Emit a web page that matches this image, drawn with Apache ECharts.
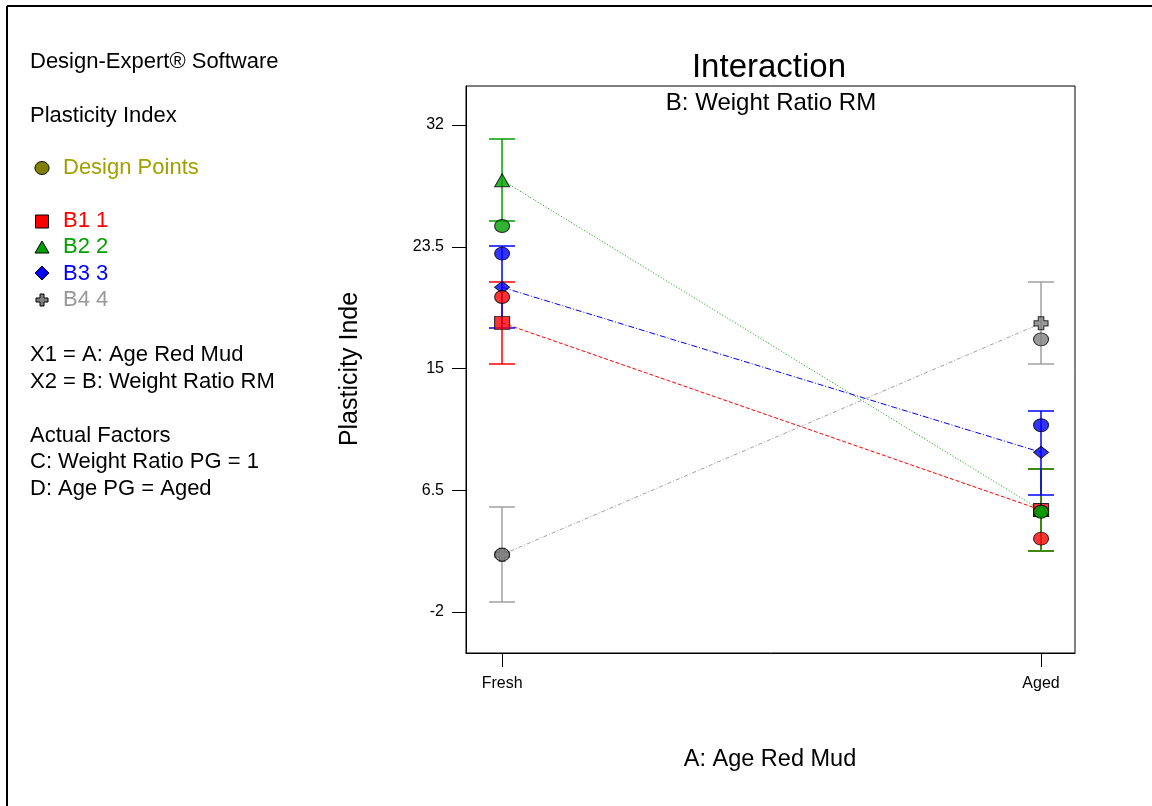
<!DOCTYPE html>
<html>
<head>
<meta charset="utf-8">
<script src="https://cdn.jsdelivr.net/npm/echarts@6/dist/echarts.min.js"></script>
<style>
html,body{margin:0;padding:0;background:#fff;}
#main{width:1152px;height:806px;}
</style>
</head>
<body>
<div id="main"></div>
<script>
// ---- data ----
const categories = ['Fresh', 'Aged'];
const yTicks = [-2, 6.5, 15, 23.5, 32];
const seriesNames = ['B1 1', 'B2 2', 'B3 3', 'B4 4'];

const meanB1 = [18.18, 5.11];
const lowB1  = [15.28, 2.22];
const highB1 = [21.07, 7.98];

const meanB2 = [28.15, 5.10];
const lowB2  = [25.28, 2.22];
const highB2 = [31.02, 7.98];

const meanB3 = [20.67, 9.14];
const lowB3  = [17.80, 6.19];
const highB3 = [23.56, 12.01];

const meanB4 = [1.99, 18.15];
const lowB4  = [-1.32, 15.28];
const highB4 = [5.30, 21.04];

const designB1 = [19.99, 3.11];
const designB2 = [24.95, 4.99];
const designB3 = [23.02, 11.03];
const designB4 = [1.99, 17.03];

// ---- styles ----
const FONT = 'Liberation Sans, Arial, sans-serif';
const colRed = '#ff0000', colGreen = '#00a000', colBlue = '#0000ff', colGray = '#808080', colGrayLine = '#a0a0a0';
const plusPath = 'path://M3,0 H7 V3 H10 V7 H7 V10 H3 V7 H0 V3 H3 Z';

const groups = [
  {name: seriesNames[0], mean: meanB1, low: lowB1, high: highB1, design: designB1, color: colRed, bar: colRed, dash: [4, 2], symbol: 'rect', size: [15, 13]},
  {name: seriesNames[1], mean: meanB2, low: lowB2, high: highB2, design: designB2, color: colGreen, bar: colGreen, dash: [1, 2], symbol: 'triangle', size: [15, 13]},
  {name: seriesNames[2], mean: meanB3, low: lowB3, high: highB3, design: designB3, color: colBlue, bar: colBlue, dash: [6, 2, 1, 2], symbol: 'diamond', size: [15, 12]},
  {name: seriesNames[3], mean: meanB4, low: lowB4, high: highB4, design: designB4, color: colGray, bar: colGrayLine, dash: [4, 2, 1, 2], symbol: plusPath, size: [14, 13]}
];

function pts(arr) { return arr.map((v, i) => [i, v]); }

const series = [];
// mean lines
groups.forEach(g => {
  series.push({
    type: 'line', name: g.name + ' line', data: pts(g.mean), z: 2, symbol: 'none', silent: true,
    lineStyle: {color: g.bar, width: 1, type: g.dash}
  });
});
// error bars: order red, green, blue, gray (later series draw on top)
groups.forEach(g => {
  series.push({
    type: 'custom', name: g.name + ' err', z: 3, silent: true,
    data: g.low.map((lo, i) => [i, lo, g.high[i]]),
    itemStyle: {color: g.bar},
    renderItem: function (params, api) {
      const x = api.value(0);
      const pLo = api.coord([x, api.value(1)]);
      const pHi = api.coord([x, api.value(2)]);
      const cx = Math.round(pLo[0]), yLo = Math.round(pLo[1]), yHi = Math.round(pHi[1]);
      const hw = 13;
      const st = {stroke: g.bar, fill: null, lineWidth: 1.5};
      return {type: 'group', children: [
        {type: 'line', shape: {x1: cx, y1: yLo, x2: cx, y2: yHi}, style: st},
        {type: 'line', shape: {x1: cx - hw, y1: yLo, x2: cx + hw, y2: yLo}, style: st},
        {type: 'line', shape: {x1: cx - hw, y1: yHi, x2: cx + hw, y2: yHi}, style: st}
      ]};
    }
  });
});
// mean markers
groups.forEach(g => {
  series.push({
    type: 'scatter', name: g.name, data: pts(g.mean), z: 4,
    symbol: g.symbol, symbolSize: g.size,
    itemStyle: {color: g.color, borderColor: '#000', borderWidth: 1}
  });
});
// design points
groups.forEach(g => {
  series.push({
    type: 'scatter', name: g.name + ' design', data: pts(g.design), z: 5,
    symbol: 'circle', symbolSize: [15, 13],
    itemStyle: {color: g.color, borderColor: '#000', borderWidth: 1}
  });
});

function txt(text, x, y, size, color, align) {
  return {
    type: 'text', x: x, y: y, silent: true,
    style: {text: text, fontFamily: FONT, fontSize: size, fill: color || '#000', textVerticalAlign: 'middle', textAlign: align || 'left'}
  };
}

const LS = 22;
const graphic = [
  // outer frame (top & left)
  {type: 'line', shape: {x1: 7, y1: 6, x2: 1152, y2: 6}, style: {stroke: '#000', lineWidth: 2}},
  {type: 'line', shape: {x1: 7, y1: 6, x2: 7, y2: 806}, style: {stroke: '#000', lineWidth: 2}},
  // left info panel
  txt('Design-Expert® Software', 30, 62, LS),
  txt('Plasticity Index', 30, 116, LS),
  {type: 'ellipse', shape: {cx: 42, cy: 168, rx: 7, ry: 6.5}, style: {fill: '#808000', stroke: '#000', lineWidth: 1}},
  txt('Design Points', 63, 168, LS, '#a0a000'),
  {type: 'rect', shape: {x: 35.5, y: 215, width: 13, height: 13}, style: {fill: colRed, stroke: '#000', lineWidth: 1}},
  txt(seriesNames[0], 63, 221, LS, colRed),
  {type: 'polygon', shape: {points: [[42, 241], [49, 253], [35, 253]]}, style: {fill: colGreen, stroke: '#000', lineWidth: 1}},
  txt(seriesNames[1], 63, 247, LS, colGreen),
  {type: 'polygon', shape: {points: [[42, 266], [49, 273], [42, 280], [35, 273]]}, style: {fill: colBlue, stroke: '#000', lineWidth: 1}},
  txt(seriesNames[2], 63, 274, LS, colBlue),
  {type: 'polygon', shape: {points: [[40, 294], [44, 294], [44, 298], [48, 298], [48, 302], [44, 302], [44, 306], [40, 306], [40, 302], [36, 302], [36, 298], [40, 298]]}, style: {fill: colGray, stroke: '#000', lineWidth: 1}},
  txt(seriesNames[3], 63, 300, LS, '#999999'),
  txt('X1 = A: Age Red Mud', 30, 355, LS),
  txt('X2 = B: Weight Ratio RM', 30, 382, LS),
  txt('Actual Factors', 30, 436, LS),
  txt('C: Weight Ratio PG = 1', 30, 462, LS),
  txt('D: Age PG = Aged', 30, 489, LS),
  // titles
  txt('Interaction', 769, 68, 33, '#000', 'center'),
  txt('B: Weight Ratio RM', 771, 103, 24, '#000', 'center'),
  // axis names
  {type: 'text', x: 350, y: 369, rotation: Math.PI / 2, silent: true,
   style: {text: 'Plasticity Inde', fontFamily: FONT, fontSize: 25, fill: '#000', textAlign: 'center', textVerticalAlign: 'middle'}},
  txt('A: Age Red Mud', 770, 760, 23.5, '#000', 'center')
];

const chart = echarts.init(document.getElementById('main'), null, {renderer: 'canvas'});
chart.setOption({
  backgroundColor: '#fff',
  animation: false,
  grid: {left: 466, top: 86, width: 609, height: 567, show: true, borderColor: '#000', borderWidth: 1, containLabel: false},
  xAxis: {
    type: 'value', min: -0.067, max: 1.063,
    axisLine: {show: true, onZero: false, lineStyle: {color: '#000', width: 1}},
    axisTick: {show: true, inside: false, length: 14, customValues: [0, 1], lineStyle: {color: '#000'}},
    axisLabel: {show: true, customValues: [0, 1], formatter: v => categories[Math.round(v)], color: '#000', fontFamily: FONT, fontSize: 16, margin: 23},
    splitLine: {show: false}
  },
  yAxis: {
    type: 'value', min: -4.88, max: 34.73,
    axisLine: {show: true, onZero: false, lineStyle: {color: '#000', width: 1}},
    axisTick: {show: true, inside: false, length: 14, customValues: yTicks, lineStyle: {color: '#000'}},
    axisLabel: {show: true, customValues: yTicks, formatter: v => String(v), color: '#000', fontFamily: FONT, fontSize: 16, margin: 22},
    splitLine: {show: false}
  },
  graphic: graphic,
  series: series
});
</script>
</body>
</html>
